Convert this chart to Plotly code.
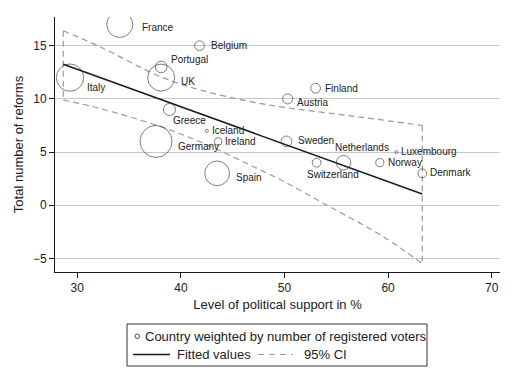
import plotly.graph_objects as go

# ---- data ----
countries = ["France", "Belgium", "Portugal", "UK", "Italy", "Greece", "Iceland",
             "Ireland", "Germany", "Spain", "Finland", "Austria", "Sweden",
             "Netherlands", "Switzerland", "Norway", "Luxembourg", "Denmark"]
support = [34.1, 41.8, 38.1, 38.1, 29.3, 38.9, 42.5, 43.6, 37.6, 43.5,
           53.0, 50.3, 50.2, 55.7, 53.1, 59.2, 60.8, 63.3]
reforms = [17, 15, 13, 12, 12, 9, 7, 6, 6, 3, 11, 10, 6, 4, 4, 4, 5, 3]
voters_mn = [41, 5.8, 8.0, 44, 45, 8.8, 0.23, 3.7, 62, 37, 5.8, 6.2, 7.0,
             12.5, 4.7, 4.0, 0.22, 4.7]

fit_x = [28.65, 63.3]
fit_y = [13.25, 1.05]

ci_upper_x = [28.65, 32.2, 38.0, 42.0, 46.7, 50.0, 54.8, 58.0, 63.3]
ci_upper_y = [16.4, 14.9, 12.1, 10.8, 9.75, 9.2, 8.6, 8.2, 7.5]
ci_lower_x = [28.65, 32.2, 38.0, 42.0, 47.7, 50.0, 54.1, 59.6, 63.3]
ci_lower_y = [9.9, 9.1, 7.4, 5.9, 3.3, 2.2, 0.0, -3.0, -5.5]

x_ticks = [30, 40, 50, 60, 70]
y_ticks = [-5, 0, 5, 10, 15]
y_ticktext = ["\u22125", "0", "5", "10", "15"]

# label offsets in pixels (dx right, dy down) -- style only
label_off = {
    "France": (20, 3), "Belgium": (9, 0), "Portugal": (8, -7), "UK": (18, 4),
    "Italy": (15, 10), "Greece": (2, 11), "Iceland": (3, 0), "Ireland": (5, 0),
    "Germany": (20, 5), "Spain": (17, 4), "Finland": (7, 0), "Austria": (7, 4),
    "Sweden": (9, -1), "Netherlands": (-11, -15), "Switzerland": (-12, 12),
    "Norway": (6, 0), "Luxembourg": (3, -1), "Denmark": (6, -1),
}

FONT = "Liberation Sans, Arial, Helvetica, sans-serif"
TXT = "#222222"
CI_COL = "#9a9a9a"

# page body adds an 8px offset; plot area in reference pixels: x 55..500, y 17..272
OFF = 8
L, T, W, H = 55, 17, 445, 255
FIG_W, FIG_H = 515 - OFF, 373 - OFF

fig = go.Figure()

# 95% CI curves
fig.add_trace(go.Scatter(x=ci_upper_x, y=ci_upper_y, mode="lines",
                         line=dict(color=CI_COL, width=1.2, dash="6px,4px", shape="spline"),
                         hoverinfo="skip", showlegend=False))
fig.add_trace(go.Scatter(x=ci_lower_x, y=ci_lower_y, mode="lines",
                         line=dict(color=CI_COL, width=1.2, dash="6px,4px", shape="spline"),
                         hoverinfo="skip", showlegend=False))
# CI end caps
fig.add_trace(go.Scatter(x=[ci_upper_x[0], ci_lower_x[0]], y=[ci_upper_y[0], ci_lower_y[0]],
                         mode="lines", line=dict(color=CI_COL, width=1.2, dash="6px,4px"),
                         hoverinfo="skip", showlegend=False))
fig.add_trace(go.Scatter(x=[ci_upper_x[-1], ci_lower_x[-1]], y=[ci_upper_y[-1], ci_lower_y[-1]],
                         mode="lines", line=dict(color=CI_COL, width=1.2, dash="6px,4px"),
                         hoverinfo="skip", showlegend=False))

# fitted line
fig.add_trace(go.Scatter(x=fit_x, y=fit_y, mode="lines",
                         line=dict(color="#1a1a1a", width=1.6),
                         hoverinfo="skip", showlegend=False))

# bubbles
max_d = 32.0
fig.add_trace(go.Scatter(
    x=support, y=reforms, mode="markers", text=countries,
    marker=dict(size=voters_mn, sizemode="area",
                sizeref=2.0 * max(voters_mn) / max_d ** 2, sizemin=1.5,
                color="rgba(255,255,255,0)",
                line=dict(color="#333333", width=0.9)),
    showlegend=False))

annotations = []
for c, xv, yv in zip(countries, support, reforms):
    dx, dy = label_off[c]
    annotations.append(dict(x=xv, y=yv, xref="x", yref="y", text=c, showarrow=False,
                            xanchor="left", yanchor="middle", xshift=dx, yshift=-dy,
                            font=dict(family=FONT, size=10, color=TXT)))

# ---- manual legend (paper coords from reference pixel positions) ----
def px(xp):
    return (xp - L) / W
def py(yp):
    return (T + H - yp) / H

shapes = [
    dict(type="rect", xref="paper", yref="paper", x0=px(127), x1=px(427),
         y0=py(366), y1=py(324), line=dict(color="#333333", width=1),
         fillcolor="white"),
    dict(type="circle", xref="paper", yref="paper", x0=px(135), x1=px(139.5),
         y0=py(338.5), y1=py(334), line=dict(color="#333333", width=0.9)),
    dict(type="line", xref="paper", yref="paper", x0=px(133), x1=px(170),
         y0=py(354.5), y1=py(354.5), line=dict(color="#1a1a1a", width=1.6)),
    dict(type="line", xref="paper", yref="paper", x0=px(258), x1=px(293),
         y0=py(354.5), y1=py(354.5), line=dict(color=CI_COL, width=1.2, dash="6px,5px")),
]
for txt, xp, yp in [("Country weighted by number of registered voters", 143, 336),
                    ("Fitted values", 175, 354.5), ("95% CI", 302, 354.5)]:
    annotations.append(dict(x=px(xp), y=py(yp), xref="paper", yref="paper", text=txt,
                            showarrow=False, xanchor="left", yanchor="middle",
                            font=dict(family=FONT, size=13, color=TXT)))

fig.update_layout(
    width=FIG_W, height=FIG_H,
    margin=dict(l=L - OFF, r=FIG_W - (L - OFF) - W, t=T - OFF, b=FIG_H - (T - OFF) - H),
    paper_bgcolor="white", plot_bgcolor="white",
    font=dict(family=FONT, color=TXT),
    shapes=shapes, annotations=annotations,
    xaxis=dict(range=[27.85, 70.8], tickvals=x_ticks, showgrid=False, zeroline=False,
               showline=True, linecolor="#1a1a1a", linewidth=1, ticks="outside",
               ticklen=5, tickcolor="#1a1a1a", tickfont=dict(size=12, color=TXT),
               title=dict(text="Level of political support in %", standoff=5,
                          font=dict(size=13, color=TXT))),
    yaxis=dict(range=[-6.28, 17.7], tickvals=y_ticks, ticktext=y_ticktext,
               showgrid=True, gridcolor="#c8c8c8", gridwidth=1, zeroline=False,
               showline=True, linecolor="#1a1a1a", linewidth=1, ticks="outside",
               ticklen=5, tickcolor="#1a1a1a", tickfont=dict(size=12, color=TXT),
               title=dict(text="Total number of reforms", standoff=6,
                          font=dict(size=13, color=TXT))),
)

fig.write_html("out.html")
